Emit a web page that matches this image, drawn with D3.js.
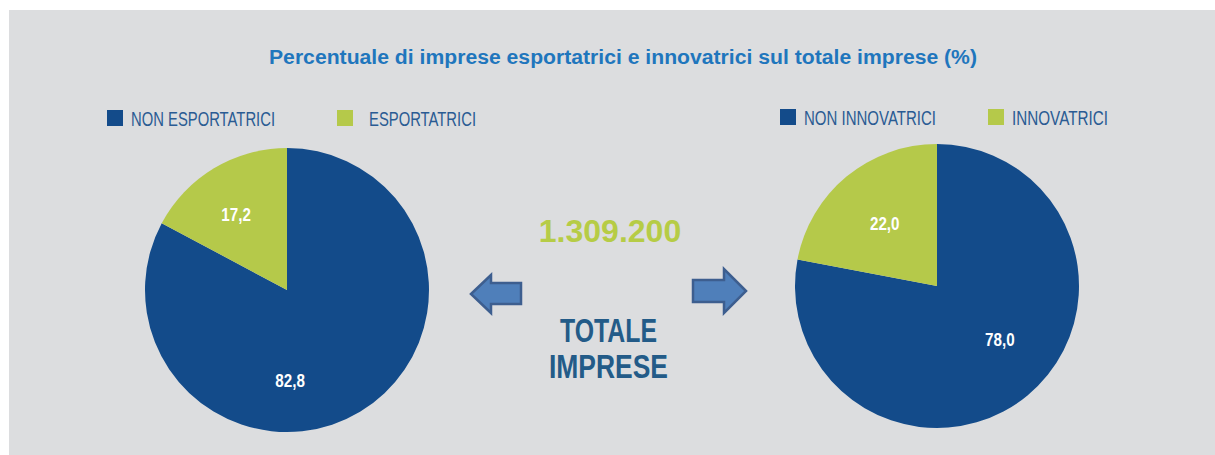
<!DOCTYPE html>
<html>
<head>
<meta charset="utf-8">
<script src="https://cdn.jsdelivr.net/npm/d3@7"></script>
<style>
  html, body { margin: 0; padding: 0; background: #ffffff; }
  svg { display: block; }
</style>
</head>
<body>
<div id="chart"></div>
<script>
const width = 1215;
const height = 455;

// dati
const exportLabels = ["NON ESPORTATRICI", "ESPORTATRICI"];
const exportValues = [82.8, 17.2];
const innovLabels = ["NON INNOVATRICI", "INNOVATRICI"];
const innovValues = [78.0, 22.0];
const totalImprese = "1.309.200";

const colors = ["#134b8a", "#b5c94a"];
const font = "'Liberation Sans', Arial, Helvetica, sans-serif";

const svg = d3.select("#chart").append("svg")
  .attr("width", width)
  .attr("height", height);

svg.append("rect")
  .attr("x", 9).attr("y", 10)
  .attr("width", width - 9).attr("height", height - 10)
  .attr("fill", "#dcdddf");

// titolo (testo "condensed" ottenuto con textLength)
svg.append("text")
  .attr("x", 269).attr("y", 64)
  .attr("textLength", 708)
  .attr("lengthAdjust", "spacingAndGlyphs")
  .style("font-family", font)
  .style("font-weight", "bold")
  .style("font-size", "20px")
  .attr("fill", "#1f76bd")
  .text("Percentuale di imprese esportatrici e innovatrici sul totale imprese (%)");

const pie = d3.pie().sort(null).value(d => d);

function drawPie(values, labels, opts) {
  const { cx, cy, r, legend, labelPos } = opts;
  const arc = d3.arc().innerRadius(0).outerRadius(r);
  const g = svg.append("g").attr("transform", `translate(${cx},${cy})`);
  const arcs = pie(values);

  g.selectAll("path")
    .data(arcs)
    .enter()
    .append("path")
    .attr("d", arc)
    .attr("fill", (d, i) => colors[i]);

  // etichette: angolo (gradi, da ore 12) e distanza dal centro
  g.selectAll("text")
    .data(arcs)
    .enter()
    .append("text")
    .attr("transform", (d, i) => {
      const a = labelPos[i][0] * Math.PI / 180;
      const x = Math.sin(a) * labelPos[i][1];
      const y = -Math.cos(a) * labelPos[i][1];
      return `translate(${x},${y}) scale(0.8,1)`;
    })
    .attr("dy", "0.36em")
    .attr("text-anchor", "middle")
    .style("font-family", font)
    .style("font-weight", "bold")
    .style("font-size", "19px")
    .attr("fill", "#ffffff")
    .text(d => d3.format(".1f")(d.data).replace(".", ","));

  // legenda
  labels.forEach((lab, i) => {
    const l = legend[i];
    svg.append("rect")
      .attr("x", l.x).attr("y", l.y)
      .attr("width", 16).attr("height", 16)
      .attr("fill", colors[i]);
    svg.append("text")
      .attr("x", l.tx).attr("y", l.y + 16)
      .attr("textLength", l.w)
      .attr("lengthAdjust", "spacingAndGlyphs")
      .style("font-family", font)
      .style("font-size", "21px")
      .attr("fill", "#2a5b93")
      .text(lab);
  });
}

drawPie(exportValues, exportLabels, {
  cx: 287, cy: 290, r: 142,
  labelPos: [[178, 90], [-34, 91]],
  legend: [{ x: 107, y: 110, tx: 131, w: 144 }, { x: 337, y: 110, tx: 369, w: 107 }]
});
drawPie(innovValues, innovLabels, {
  cx: 937, cy: 286, r: 142,
  labelPos: [[130, 82], [-39.6, 82]],
  legend: [{ x: 780, y: 109, tx: 804, w: 132 }, { x: 988, y: 109, tx: 1012, w: 96 }]
});

svg.append("text")
  .attr("x", 610).attr("y", 242)
  .attr("text-anchor", "middle")
  .style("font-family", font)
  .style("font-weight", "bold")
  .style("font-size", "32px")
  .attr("fill", "#b6cc46")
  .text(totalImprese);

[["TOTALE", 560, 97, 342], ["IMPRESE", 549, 119, 378]].forEach(([t, x, w, y]) => {
  svg.append("text")
    .attr("x", x).attr("y", y)
    .attr("textLength", w)
    .attr("lengthAdjust", "spacingAndGlyphs")
    .style("font-family", font)
    .style("font-weight", "bold")
    .style("font-size", "33px")
    .attr("fill", "#235b88")
    .text(t);
});

// frecce
const arrowStyle = sel => sel.attr("fill", "#4f7fba").attr("stroke", "#3d5e8f").attr("stroke-width", 2.5).attr("stroke-linejoin", "miter");
svg.append("path")
  .attr("d", "M471,294 L491,275 L491,283 L521,283 L521,304 L491,304 L491,313 Z")
  .call(arrowStyle);
svg.append("path")
  .attr("d", "M746,291 L724,269 L724,280 L693,280 L693,302 L724,302 L724,313 Z")
  .call(arrowStyle);
</script>
</body>
</html>
